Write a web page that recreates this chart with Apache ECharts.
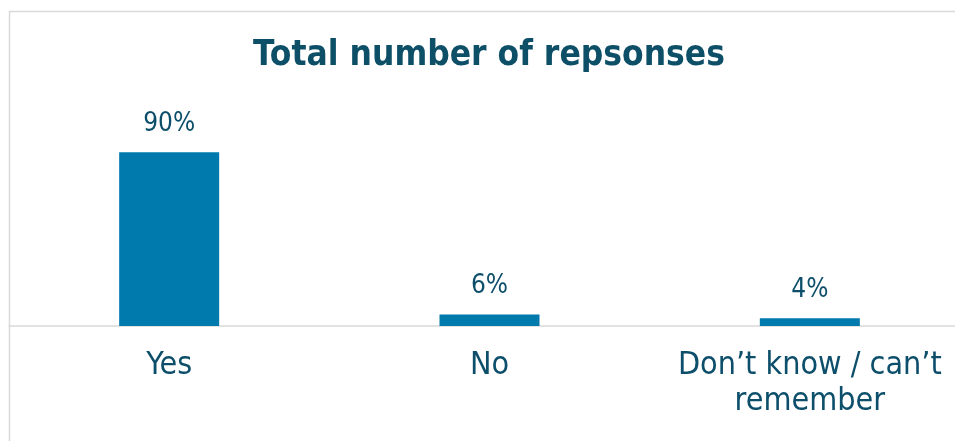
<!DOCTYPE html>
<html>
<head>
<meta charset="utf-8">
<script src="https://cdn.jsdelivr.net/npm/echarts@6/dist/echarts.min.js"></script>
<style>
html,body{margin:0;padding:0;background:#fff;}
#chart{width:955px;height:441px;}
</style>
</head>
<body>
<div id="chart"></div>
<script>
const categories = ["Yes", "No", "Don\u2019t know / can\u2019t\nremember"];
const values = [90, 6, 4];
const titleText = "Total number of repsonses";

const textColor = "#0d4f6b";
const font = "DejaVu Sans Condensed";

const chart = echarts.init(document.getElementById("chart"), null, {renderer: "canvas"});
chart.setOption({
  animation: false,
  backgroundColor: "#ffffff",
  title: {
    text: titleText,
    left: 484,
    textAlign: "center",
    top: 33,
    textStyle: {fontFamily: font, fontWeight: "bold", fontSize: 35, color: "#0e4f68"}
  },
  graphic: [{
    type: "rect",
    shape: {x: 9.5, y: 11.5, width: 1200, height: 800},
    style: {fill: "none", stroke: "#d9d9d9", lineWidth: 1.5},
    silent: true,
    z: -10
  }],
  grid: {left: 9, width: 961, top: 133, bottom: 115, containLabel: false, outerBoundsMode: "none"},
  xAxis: {
    type: "category",
    data: categories,
    axisTick: {show: false},
    axisLine: {show: true, lineStyle: {color: "#d9d9d9", width: 1.5}},
    axisLabel: {
      interval: 0,
      margin: 22,
      fontFamily: font,
      fontSize: 32,
      lineHeight: 36,
      color: textColor
    }
  },
  yAxis: {
    type: "value",
    min: 0,
    max: 100,
    show: false,
    splitLine: {show: false}
  },
  series: [{
    type: "bar",
    data: values,
    barWidth: 100,
    itemStyle: {color: "#0079ad"},
    label: {
      show: true,
      position: "top",
      distance: 15,
      formatter: "{c}%",
      fontFamily: font,
      fontSize: 26,
      color: textColor
    }
  }]
});
</script>
</body>
</html>
